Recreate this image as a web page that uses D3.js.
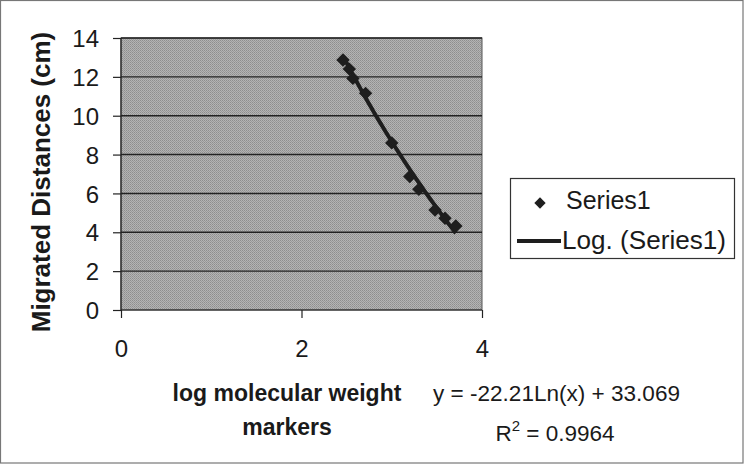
<!DOCTYPE html>
<html><head><meta charset="utf-8">
<script src="https://cdn.jsdelivr.net/npm/d3@7"></script>
<style>body{margin:0;background:#fff}svg{display:block}text{font-family:"Liberation Sans",Arial,sans-serif}</style>
</head><body><svg id="c" width="744" height="464"></svg>
<script>
const logMW = [2.46, 2.53, 2.57, 2.71, 3.00, 3.20, 3.30, 3.48, 3.59, 3.71];
const distances = [12.87, 12.40, 11.92, 11.15, 8.60, 6.87, 6.21, 5.15, 4.72, 4.32];
const xTicks = [0, 2, 4];
const yTicks = [0, 2, 4, 6, 8, 10, 12, 14];
const fitA = -22.21, fitB = 33.069;
const seriesName = "Series1";
const trendName = "Log. (Series1)";
const eqText = "y = -22.21Ln(x) + 33.069";
const r2Text = "0.9964";
const xTitle = ["log molecular weight", "markers"];
const yTitle = "Migrated Distances (cm)";

const svg = d3.select("#c");
svg.append("rect").attr("x",0.5).attr("y",0.5).attr("width",742.5).attr("height",462.5)
  .attr("fill","#fff").attr("stroke","#777").attr("stroke-width",1.2);

const L=121, R=482, T=38, B=310;
const x = d3.scaleLinear().domain([0,4]).range([L,R]);
const y = d3.scaleLinear().domain([0,14]).range([B,T]);

// dithered gray pattern
const defs = svg.append("defs");
const pat = defs.append("pattern").attr("id","dith").attr("width",2).attr("height",2).attr("patternUnits","userSpaceOnUse");
pat.append("rect").attr("width",2).attr("height",2).attr("fill","#b4b4b4");
pat.append("rect").attr("width",1).attr("height",1).attr("fill","#8e8e8e");
pat.append("rect").attr("x",1).attr("y",1).attr("width",1).attr("height",1).attr("fill","#9a9a9a");

svg.append("rect").attr("x",L).attr("y",T).attr("width",R-L).attr("height",B-T)
  .attr("fill","url(#dith)").attr("stroke","#555").attr("stroke-width",1);

// gridlines
svg.append("g").selectAll("line").data(yTicks.filter(d=>d>0)).join("line")
  .attr("x1",L).attr("x2",R).attr("y1",d=>y(d)).attr("y2",d=>y(d))
  .attr("stroke","#222").attr("stroke-width",1.4);

// axes
const fmt = d3.format("d");
const yAxis = svg.append("g").attr("transform",`translate(${L},0)`)
  .call(d3.axisLeft(y).tickValues(yTicks).tickFormat(fmt).tickSize(8).tickPadding(14));
const xAxis = svg.append("g").attr("transform",`translate(0,${B})`)
  .call(d3.axisBottom(x).tickValues(xTicks).tickFormat(fmt).tickSize(8).tickPadding(22));
[yAxis,xAxis].forEach(g=>{
  g.select(".domain").attr("stroke","#222").attr("stroke-width",1.2);
  g.selectAll(".tick line").attr("stroke","#222").attr("stroke-width",1.2);
  g.selectAll("text").attr("font-size",24).attr("fill","#1a1a1a")
    .style("font-family",'"Liberation Sans",Arial,sans-serif');
});
yAxis.selectAll("text").attr("x",-22).attr("dy","0.36em");
xAxis.selectAll("text").attr("y",30).attr("dy","0.71em");
xAxis.select(".domain").attr("d",`M${L},0H${R}`);
yAxis.select(".domain").attr("d",`M0,${T}V${B}`);

// trendline
const xmin = d3.min(logMW), xmax = d3.max(logMW);
const fitPts = d3.range(0,41).map(i=>{const xv = xmin+(xmax-xmin)*i/40; return [xv, fitA*Math.log(xv)+fitB];});
svg.append("path").datum(fitPts)
  .attr("d", d3.line().x(d=>x(d[0])).y(d=>y(d[1])))
  .attr("fill","none").attr("stroke","#1e1e1e").attr("stroke-width",4);

// points (square rotated 45° = diamond)
const marker = d3.symbol().type(d3.symbolSquare).size(90);
svg.append("g").selectAll("path").data(logMW).join("path")
  .attr("transform",(d,i)=>`translate(${x(d)},${y(distances[i])}) rotate(45)`)
  .attr("d",marker).attr("fill","#1e1e1e");

// y title
svg.append("text").attr("transform",`translate(50,182) rotate(-90)`)
  .attr("text-anchor","middle").attr("font-size",26).attr("font-weight","bold").attr("fill","#1a1a1a")
  .text(yTitle);

// x title
svg.append("g").selectAll("text").data(xTitle).join("text")
  .attr("x",287).attr("y",(d,i)=>401+i*34).attr("text-anchor","middle")
  .attr("font-size",23).attr("font-weight","bold").attr("fill","#1a1a1a").text(d=>d);

// equation
svg.append("text").attr("x",433).attr("y",401)
  .attr("font-size",22.5).attr("fill","#1a1a1a")
  .attr("textLength",247).attr("lengthAdjust","spacingAndGlyphs").text(eqText);
const r2 = svg.append("text").attr("x",555).attr("y",441).attr("text-anchor","middle")
  .attr("font-size",22.5).attr("fill","#1a1a1a");
r2.append("tspan").text("R");
r2.append("tspan").attr("dy",-10).attr("font-size",15).text("2");
r2.append("tspan").attr("dy",10).text(" = " + r2Text);

// legend
const lg = svg.append("g");
lg.append("rect").attr("x",510.5).attr("y",178.5).attr("width",224).attr("height",80)
  .attr("fill","#fff").attr("stroke","#333").attr("stroke-width",1.2);
lg.append("path").attr("transform","translate(540,203) rotate(45)").attr("d",d3.symbol().type(d3.symbolSquare).size(64)()).attr("fill","#1e1e1e");
lg.append("text").attr("x",566).attr("y",209).attr("font-size",25).attr("fill","#1a1a1a").text(seriesName);
lg.append("line").attr("x1",517).attr("x2",561).attr("y1",241).attr("y2",241)
  .attr("stroke","#1e1e1e").attr("stroke-width",4);
lg.append("text").attr("x",562).attr("y",249).attr("font-size",25).attr("fill","#1a1a1a")
  .attr("textLength",164).attr("lengthAdjust","spacingAndGlyphs").text(trendName);
</script></body></html>
